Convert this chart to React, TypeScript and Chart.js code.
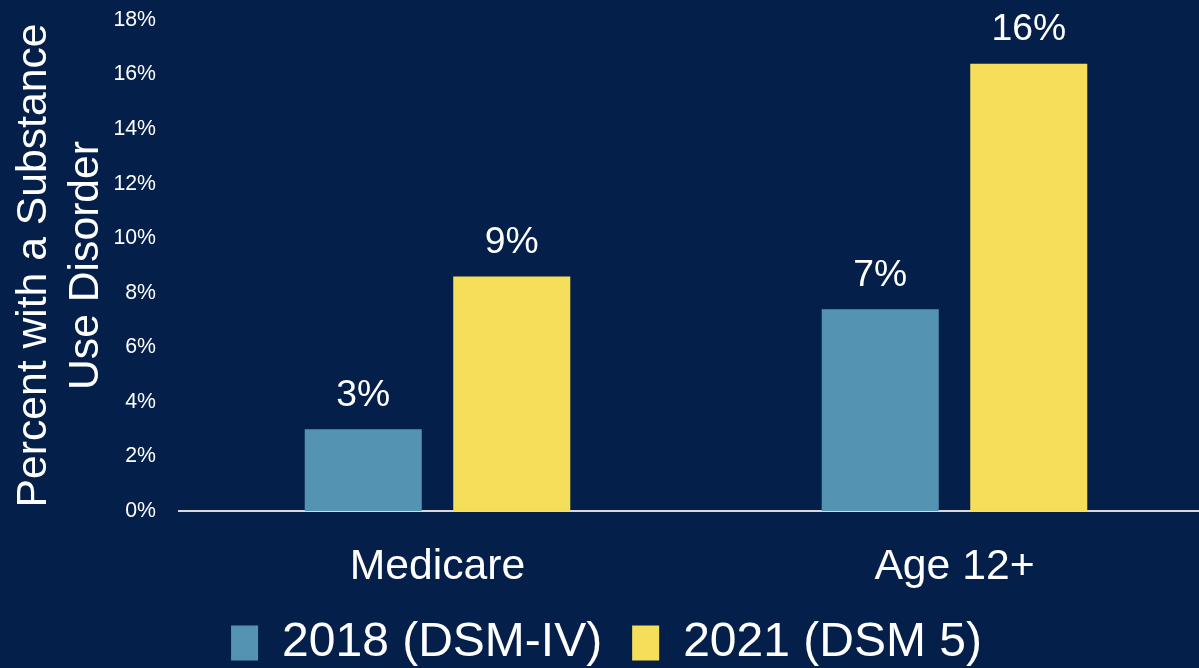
import React, { useEffect, useRef } from "react";
import { Chart, registerables } from "chart.js";

Chart.register(...registerables);

const categories = ["Medicare", "Age 12+"];
const series2018 = [3.0, 7.4];
const series2021 = [8.6, 16.4];
const seriesNames = ["2018 (DSM-IV)", "2021 (DSM 5)"];
const yTicks = [0, 2, 4, 6, 8, 10, 12, 14, 16, 18];
const axisTitle = ["Percent with a Substance", "Use Disorder"];

const BG = "#04204A";
const BLUE = "#5593B3";
const YELLOW = "#F5DF5A";
const FONT = "'Liberation Sans', Arial, sans-serif";

const W = 1213;
const H = 677;

export default function App() {
  const ref = useRef<HTMLCanvasElement | null>(null);

  useEffect(() => {
    document.body.style.margin = "0";
    document.body.style.background = BG;
    document.body.style.overflow = "hidden";
    const canvas = ref.current;
    if (!canvas) return;

    const bgPlugin = {
      id: "bg",
      beforeDraw(chart: any) {
        const c = chart.ctx;
        c.save();
        c.fillStyle = BG;
        c.fillRect(0, 0, chart.width, chart.height);
        c.restore();
      },
    };

    const labelPlugin = {
      id: "barLabels",
      afterDatasetsDraw(chart: any) {
        const c = chart.ctx;
        c.save();
        c.fillStyle = "#FFFFFF";
        c.font = `37.3px ${FONT}`;
        c.textAlign = "center";
        c.textBaseline = "alphabetic";
        chart.data.datasets.forEach((ds: any, i: number) => {
          const meta = chart.getDatasetMeta(i);
          meta.data.forEach((bar: any, j: number) => {
            c.fillText(Math.round(ds.data[j]) + "%", bar.x, bar.y - 23.5);
          });
        });
        c.restore();
      },
    };

    const chart = new Chart(canvas, {
      type: "bar",
      data: {
        labels: categories,
        datasets: [
          {
            label: seriesNames[0],
            data: series2018,
            backgroundColor: BLUE,
            borderWidth: 0,
            categoryPercentage: 0.5745,
            barPercentage: 0.788,
          },
          {
            label: seriesNames[1],
            data: series2021,
            backgroundColor: YELLOW,
            borderWidth: 0,
            categoryPercentage: 0.5745,
            barPercentage: 0.788,
          },
        ],
      },
      options: {
        responsive: false,
        animation: false,
        devicePixelRatio: 1,
        layout: { padding: { top: 20, left: 0, right: 0, bottom: 0 } },
        plugins: {
          tooltip: { enabled: false },
          legend: {
            position: "bottom",
            labels: {
              color: "#FFFFFF",
              font: { size: 48, family: FONT },
              boxWidth: 27,
              boxHeight: 35,
              padding: 30,
            },
          },
        },
        scales: {
          x: {
            grid: { display: false },
            border: { display: true, color: "#D9D9D9", width: 2 },
            ticks: {
              color: "#FFFFFF",
              font: { size: 42.7, family: FONT },
              padding: 23,
            },
            afterFit(scale: any) {
              scale.height = 78;
            },
          },
          y: {
            min: 0,
            max: 18,
            afterBuildTicks(scale: any) {
              scale.ticks = yTicks.map((v) => ({ value: v }));
            },
            afterFit(scale: any) {
              scale.width = 179;
              scale.paddingTop = 0;
              scale.paddingBottom = 0;
            },
            grid: { display: false },
            border: { display: false },
            ticks: {
              color: "#FFFFFF",
              font: { size: 21.3, family: FONT },
              padding: 15,
              callback: (v: any) => v + "%",
            },
            title: {
              display: true,
              text: axisTitle,
              color: "#FFFFFF",
              font: { size: 42.7, family: FONT },
              padding: { top: 9, bottom: 5 },
            },
          },
        },
      },
      plugins: [bgPlugin, labelPlugin],
    });

    return () => chart.destroy();
  }, []);

  return (
    <div
      style={{
        position: "fixed",
        left: 0,
        top: 0,
        width: 1199,
        height: 668,
        overflow: "hidden",
        background: BG,
      }}
    >
      <canvas
        ref={ref}
        width={W}
        height={H}
        style={{ width: W, height: H, display: "block" }}
      />
    </div>
  );
}
